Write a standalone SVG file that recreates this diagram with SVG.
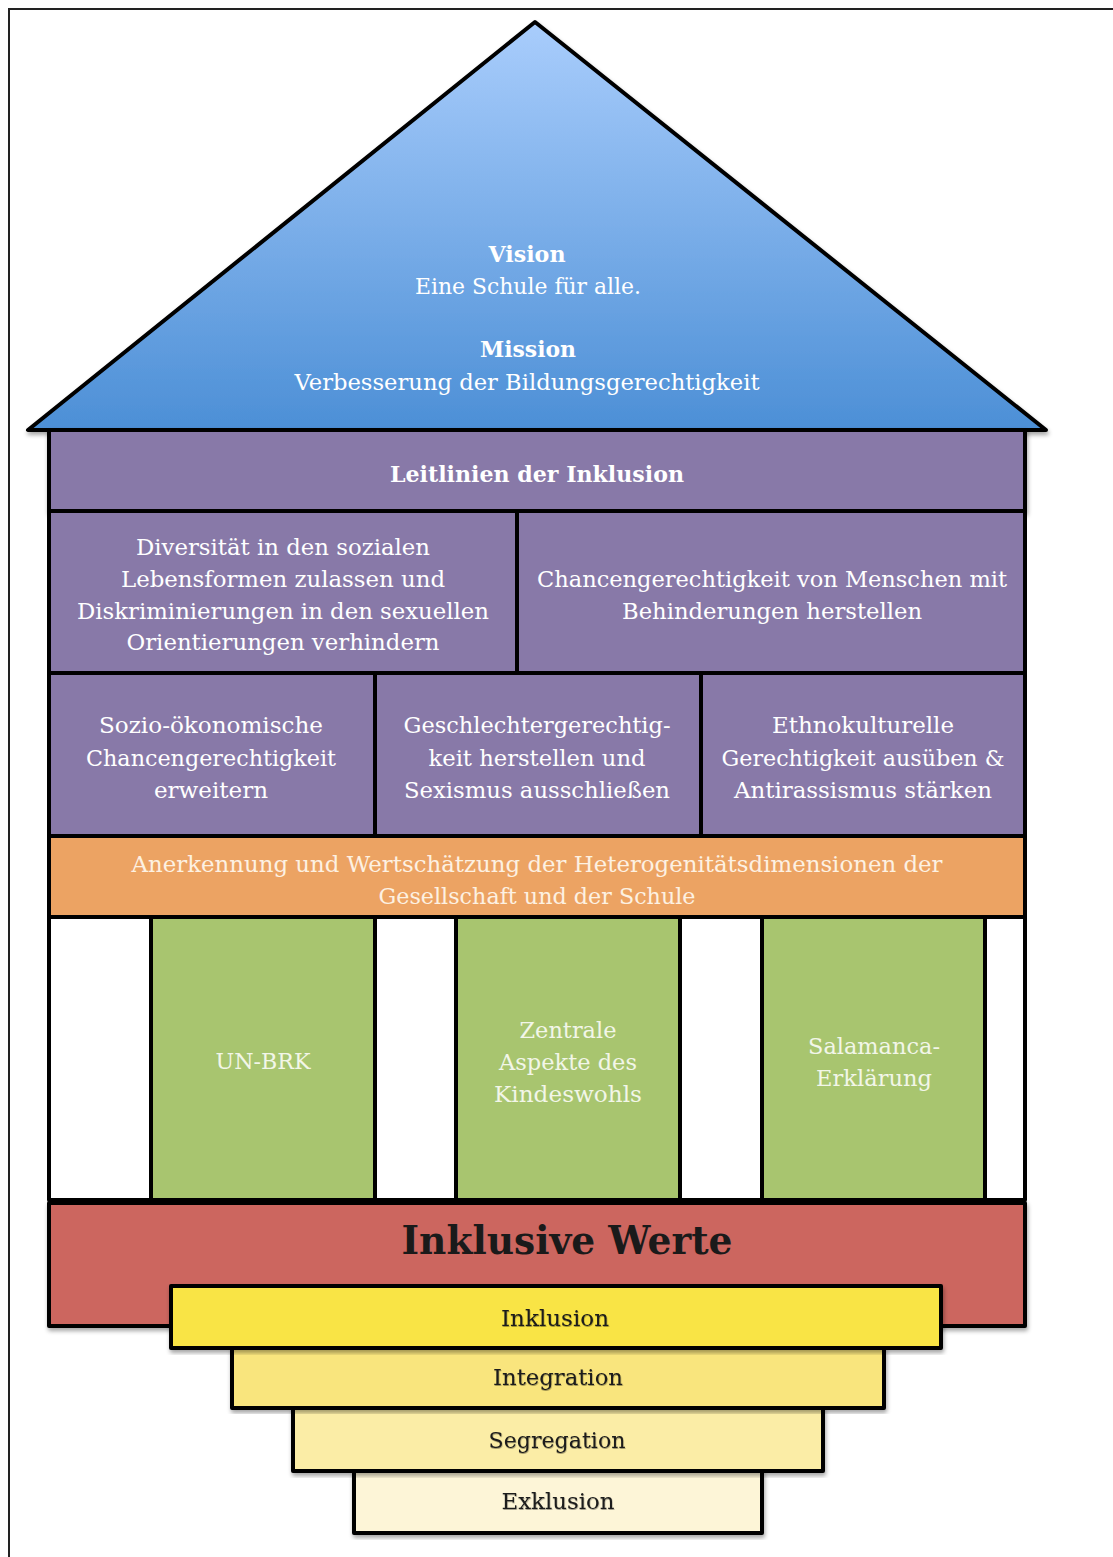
<svg xmlns="http://www.w3.org/2000/svg" width="1113" height="1557" viewBox="0 0 1113 1557">
<defs>
<linearGradient id="roofG" x1="0" y1="0" x2="0" y2="1">
<stop offset="0" stop-color="#a9cdfc"/>
<stop offset="1" stop-color="#4c8fd6"/>
</linearGradient>
<filter id="sh" x="-5%" y="-5%" width="110%" height="115%">
<feDropShadow dx="1" dy="3" stdDeviation="2" flood-color="#000" flood-opacity="0.35"/>
</filter>
<filter id="tsh" x="-5%" y="-20%" width="110%" height="150%">
<feDropShadow dx="0.5" dy="1" stdDeviation="0.6" flood-color="#000" flood-opacity="0.35"/>
</filter>
</defs>
<style>
.b{stroke:#000;stroke-width:4;stroke-linejoin:round}
.pu{fill:#8879a8}
.t{font-family:"DejaVu Serif","Liberation Serif",serif;font-size:22px;text-anchor:middle}
.w{fill:#ffffff}
.lo{fill:#fdf1e2}
.lg{fill:#f2f6e8}
.k{fill:#1a1a1a}
.bold{font-weight:bold}
</style>
<rect width="1113" height="1557" fill="#ffffff"/>
<g id="frame">
<path d="M9 1557 V9 H1113" fill="none" stroke="#222" stroke-width="2"/>
</g>
<g id="roof">
<polygon class="b" points="535,22 28,430 1046,430" fill="url(#roofG)" filter="url(#sh)"/>
<text class="t w bold" x="527" y="262" textLength="77" lengthAdjust="spacingAndGlyphs">Vision</text>
<text class="t w" x="528" y="294" textLength="226" lengthAdjust="spacingAndGlyphs">Eine Schule für alle.</text>
<text class="t w bold" x="528" y="357" textLength="96" lengthAdjust="spacingAndGlyphs">Mission</text>
<text class="t w" x="527" y="390" textLength="465" lengthAdjust="spacingAndGlyphs">Verbesserung der Bildungsgerechtigkeit</text>
</g>
<g id="leitlinien">
<rect class="b pu" x="49" y="430" width="976" height="81" filter="url(#sh)"/>
<text class="t w bold" x="537" y="482" textLength="294" lengthAdjust="spacingAndGlyphs">Leitlinien der Inklusion</text>
</g>
<g id="diversitaet">
<rect class="b pu" x="49" y="511" width="468" height="162"/>
<text class="t w" x="283" y="555" textLength="294" lengthAdjust="spacingAndGlyphs">Diversität in den sozialen</text>
<text class="t w" x="283" y="587" textLength="324" lengthAdjust="spacingAndGlyphs">Lebensformen zulassen und</text>
<text class="t w" x="283" y="619" textLength="412" lengthAdjust="spacingAndGlyphs">Diskriminierungen in den sexuellen</text>
<text class="t w" x="283" y="650" textLength="313" lengthAdjust="spacingAndGlyphs">Orientierungen verhindern</text>
</g>
<g id="behinderung">
<rect class="b pu" x="517" y="511" width="508" height="162"/>
<text class="t w" x="772" y="587" textLength="470" lengthAdjust="spacingAndGlyphs">Chancengerechtigkeit von Menschen mit</text>
<text class="t w" x="772" y="619" textLength="300" lengthAdjust="spacingAndGlyphs">Behinderungen herstellen</text>
</g>
<g id="sozio">
<rect class="b pu" x="49" y="673" width="326" height="163"/>
<text class="t w" x="211" y="733" textLength="224" lengthAdjust="spacingAndGlyphs">Sozio-ökonomische</text>
<text class="t w" x="211" y="766" textLength="250" lengthAdjust="spacingAndGlyphs">Chancengerechtigkeit</text>
<text class="t w" x="211" y="798" textLength="114" lengthAdjust="spacingAndGlyphs">erweitern</text>
</g>
<g id="geschlecht">
<rect class="b pu" x="375" y="673" width="326" height="163"/>
<text class="t w" x="537" y="733" textLength="267" lengthAdjust="spacingAndGlyphs">Geschlechtergerechtig-</text>
<text class="t w" x="537" y="766" textLength="217" lengthAdjust="spacingAndGlyphs">keit herstellen und</text>
<text class="t w" x="537" y="798" textLength="266" lengthAdjust="spacingAndGlyphs">Sexismus ausschließen</text>
</g>
<g id="ethno">
<rect class="b pu" x="701" y="673" width="324" height="163"/>
<text class="t w" x="863" y="733" textLength="182" lengthAdjust="spacingAndGlyphs">Ethnokulturelle</text>
<text class="t w" x="863" y="766" textLength="283" lengthAdjust="spacingAndGlyphs">Gerechtigkeit ausüben &amp;</text>
<text class="t w" x="863" y="798" textLength="258" lengthAdjust="spacingAndGlyphs">Antirassismus stärken</text>
</g>
<g id="anerkennung">
<rect class="b" x="49" y="836" width="976" height="81" fill="#eca363"/>
<text class="t lo" x="537" y="872" textLength="811" lengthAdjust="spacingAndGlyphs">Anerkennung und Wertschätzung der Heterogenitätsdimensionen der</text>
<text class="t lo" x="537" y="904" textLength="317" lengthAdjust="spacingAndGlyphs">Gesellschaft und der Schule</text>
</g>
<g id="saeulenraum">
<rect class="b" x="49" y="917" width="976" height="283" fill="#ffffff"/>
</g>
<g id="unbrk">
<rect class="b" x="151" y="917" width="224" height="283" fill="#a8c56f"/>
<text class="t lg" x="263" y="1069" textLength="95" lengthAdjust="spacingAndGlyphs">UN-BRK</text>
</g>
<g id="kindeswohl">
<rect class="b" x="456" y="917" width="224" height="283" fill="#a8c56f"/>
<text class="t lg" x="568" y="1038" textLength="97" lengthAdjust="spacingAndGlyphs">Zentrale</text>
<text class="t lg" x="568" y="1070" textLength="138" lengthAdjust="spacingAndGlyphs">Aspekte des</text>
<text class="t lg" x="568" y="1102" textLength="148" lengthAdjust="spacingAndGlyphs">Kindeswohls</text>
</g>
<g id="salamanca">
<rect class="b" x="762" y="917" width="223" height="283" fill="#a8c56f"/>
<text class="t lg" x="874" y="1054" textLength="132" lengthAdjust="spacingAndGlyphs">Salamanca-</text>
<text class="t lg" x="874" y="1086" textLength="116" lengthAdjust="spacingAndGlyphs">Erklärung</text>
</g>
<g id="werte">
<rect class="b" x="49" y="1203" width="976" height="123" fill="#cc665f" filter="url(#sh)"/>
<text class="t k bold" x="567" y="1254" style="font-size:40px" textLength="331" lengthAdjust="spacingAndGlyphs">Inklusive Werte</text>
</g>
<g id="exklusion">
<rect class="b" x="354" y="1471" width="408" height="62" fill="#fdf5d7" filter="url(#sh)"/>
<text class="t k" x="558" y="1509" textLength="113" lengthAdjust="spacingAndGlyphs" filter="url(#tsh)">Exklusion</text>
</g>
<g id="segregation">
<rect class="b" x="293" y="1408" width="530" height="63" fill="#fbeda6" filter="url(#sh)"/>
<text class="t k" x="557" y="1448" textLength="137" lengthAdjust="spacingAndGlyphs" filter="url(#tsh)">Segregation</text>
</g>
<g id="integration">
<rect class="b" x="232" y="1348" width="652" height="60" fill="#f9e57d" filter="url(#sh)"/>
<text class="t k" x="558" y="1385" textLength="130" lengthAdjust="spacingAndGlyphs" filter="url(#tsh)">Integration</text>
</g>
<g id="inklusion">
<rect class="b" x="171" y="1286" width="770" height="62" fill="#f9e444" filter="url(#sh)"/>
<text class="t k" x="555" y="1326" textLength="108" lengthAdjust="spacingAndGlyphs" filter="url(#tsh)">Inklusion</text>
</g>
<g id="connectors"></g>
</svg>
